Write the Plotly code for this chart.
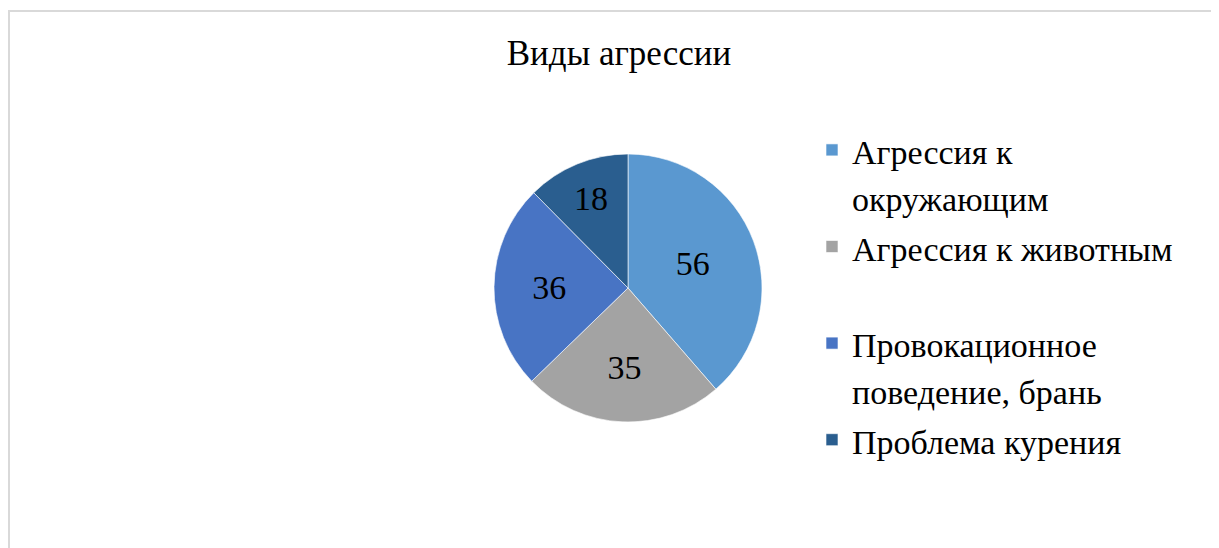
import plotly.graph_objects as go

title_text = "Виды агрессии"
categories = [
    "Агрессия к<br>окружающим",
    "Агрессия к животным<br> ",
    "Провокационное<br>поведение, брань",
    "Проблема курения<br> ",
]
values = [56, 35, 36, 18]
colors = ["#5A98D0", "#A3A3A3", "#4874C4", "#2A5E8F"]

# page is rendered with an 8px body margin; figure is sized to fill the rest
OFF = 8
PW, PH = 1219, 548
W, H = PW - OFF, PH - OFF
FONT = "Liberation Serif, Times New Roman, serif"


def px_x(x):
    return (x - OFF) / W


def px_y(y):
    return 1 - (y - OFF) / H


legend_labels = ['<span style="font-size:34px">' + c + '</span>' for c in categories]

cx, cy, r = 628, 288, 134

fig = go.Figure(
    go.Pie(
        labels=legend_labels,
        values=values,
        sort=False,
        direction="clockwise",
        rotation=0,
        marker=dict(colors=colors, line=dict(color="rgba(255,255,255,0.6)", width=1)),
        textinfo="value",
        textposition="inside",
        insidetextorientation="horizontal",
        textfont=dict(family=FONT, size=34, color="#000000"),
        hoverinfo="label+value",
        domain=dict(x=[px_x(cx - r), px_x(cx + r)], y=[px_y(cy + r), px_y(cy - r)]),
        showlegend=True,
    )
)

fig.update_layout(
    width=W,
    height=H,
    margin=dict(l=0, r=0, t=0, b=0),
    paper_bgcolor="white",
    plot_bgcolor="white",
    title=dict(
        text=title_text,
        x=px_x(619),
        xanchor="center",
        y=px_y(53),
        yanchor="middle",
        font=dict(family=FONT, size=35, color="#000000"),
    ),
    legend=dict(
        x=px_x(812),
        xanchor="left",
        y=px_y(120),
        yanchor="top",
        valign="top",
        font=dict(family=FONT, size=36, color="#000000"),
        bgcolor="rgba(0,0,0,0)",
        tracegroupgap=0,
    ),
    shapes=[
        dict(
            type="rect",
            xref="paper",
            yref="paper",
            x0=px_x(9),
            x1=px_x(1218),
            y0=-0.05,
            y1=px_y(11),
            line=dict(color="#D9D9D9", width=2),
            fillcolor="rgba(0,0,0,0)",
            layer="below",
        )
    ],
)

fig.write_html("out.html")
